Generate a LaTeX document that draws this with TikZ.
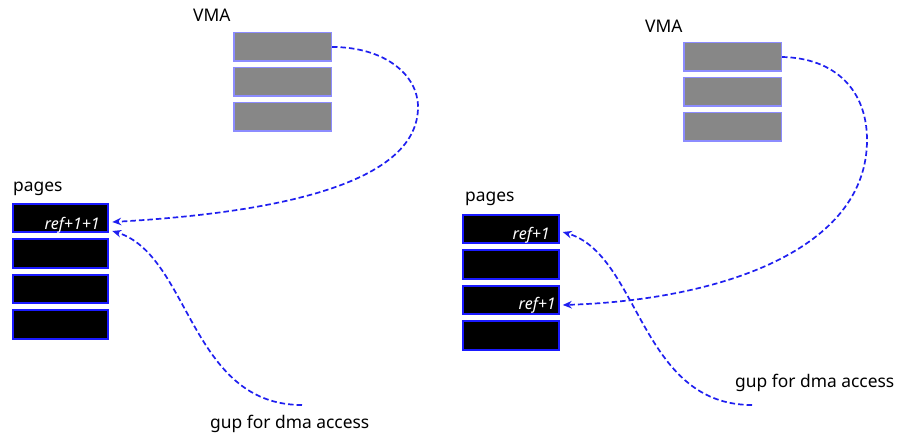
\documentclass[tikz,border=0pt]{standalone}
\usepackage{fontspec}
\setmainfont{Noto Sans}
\usepackage{tikz}
\usetikzlibrary{positioning, arrows.meta}

\definecolor{vmagray}{HTML}{878787}
\definecolor{vmaedge}{HTML}{8C8CFF}
\definecolor{pageedge}{HTML}{1A1AFF}
\definecolor{linkblue}{HTML}{1F1FF0}

\tikzset{
    vmabox/.style={rectangle, fill=vmagray, draw=vmaedge, line width=1.5pt,
        minimum width=97.5pt, minimum height=28.5pt, inner sep=0pt},
    pagebox/.style={rectangle, fill=black, draw=pageedge, line width=2pt,
        minimum width=95.5pt, minimum height=28.5pt, inner sep=0pt},
    reftext/.style={text=white, font=\fontsize{16}{16}\selectfont\itshape,
        anchor=base east, inner sep=0pt},
    tag/.style={font=\fontsize{17.4}{17.4}\selectfont, anchor=base west, inner sep=0pt},
    link/.style={draw=linkblue, line width=1.7pt, dash pattern=on 5.5pt off 3pt,
        -{Stealth[length=9pt, width=7.5pt]}}
}

\begin{document}
\begin{tikzpicture}[x=1pt, y=-1pt] % pixel-style coordinates, y grows downward

    \useasboundingbox (0,0) rectangle (899,435);

    % 1. left: a page pinned twice
    \node[vmabox] (lv1) at (282.5,47) {};
    \node[vmabox, below=5pt of lv1] (lv2) {};
    \node[vmabox, below=5pt of lv2] (lv3) {};
    \node[tag] (lvma) at (193,22) {VMA};

    \node[pagebox] (lp1) at (60.5,218) {};
    \node[pagebox, below=5pt of lp1] (lp2) {};
    \node[pagebox, below=5pt of lp2] (lp3) {};
    \node[pagebox, below=5pt of lp3] (lp4) {};
    \node[tag] (lpages) at (13,192) {pages};
    \node[reftext] (lref) at (100,230) {ref+1+1};

    \node[tag] (lgup) at (210,428) {gup for dma access};
    \coordinate (lgupend) at (302,405);

    % mapping and gup references
    \draw[link] (lv1.east) .. controls (385,47) and (418,75) .. (418,107)
        .. controls (418,180) and (290,212) .. ([xshift=3pt,yshift=-4pt]lp1.east);
    \draw[link] (lgupend) .. controls (190,405) and (190,255) .. ([xshift=3pt,yshift=-13pt]lp1.east);

    % 2. right: two pages, one reference each
    \node[vmabox] (rv1) at (732.5,57) {};
    \node[vmabox, below=5pt of rv1] (rv2) {};
    \node[vmabox, below=5pt of rv2] (rv3) {};
    \node[tag] (rvma) at (645,33) {VMA};

    \node[pagebox] (rp1) at (511,229) {};
    \node[pagebox, below=5pt of rp1] (rp2) {};
    \node[pagebox, below=5pt of rp2] (rp3) {};
    \node[pagebox, below=5pt of rp3] (rp4) {};
    \node[tag] (rpages) at (465,202) {pages};
    \node[reftext] (rref1) at (550,240) {ref+1};
    \node[reftext] (rref3) at (556,310) {ref+1};

    \node[tag] (rgup) at (735,387) {gup for dma access};
    \coordinate (rgupend) at (752,405);

    \draw[link] (rv1.east) .. controls (835,58) and (867,90) .. (867,140)
        .. controls (867,250) and (720,300) .. ([xshift=3pt,yshift=-5pt]rp3.east);
    \draw[link] (rgupend) .. controls (640,405) and (640,255) .. ([xshift=3pt,yshift=-3pt]rp1.east);

\end{tikzpicture}
\end{document}
